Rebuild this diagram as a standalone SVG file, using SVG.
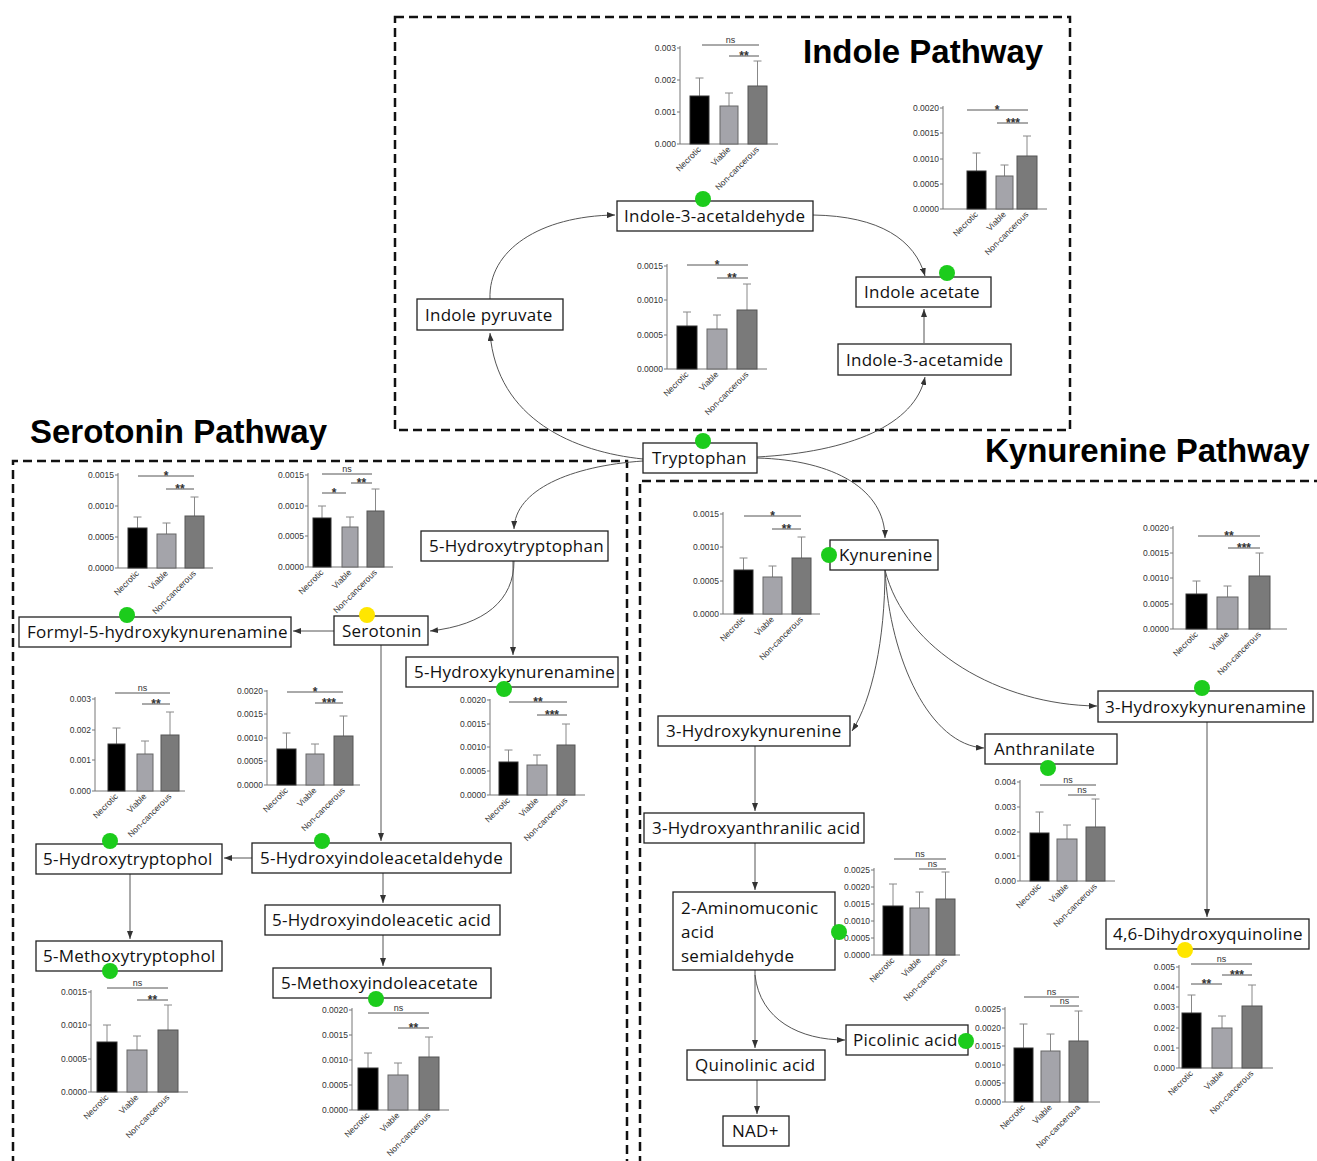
<svg xmlns="http://www.w3.org/2000/svg" width="1317" height="1161" viewBox="0 0 1317 1161">
<style>
.reg{fill:none;stroke:#111;stroke-width:2.5;stroke-dasharray:9 5}
.ttl{font-family:"Liberation Sans",Arial,sans-serif;font-weight:bold;font-size:33px;fill:#000}
.cn{fill:none;stroke:#555;stroke-width:1}
.nb{fill:#fff;stroke:#222;stroke-width:1.3}
.nt{font-family:"Open Sans","Liberation Sans",sans-serif;font-size:17px;letter-spacing:0.25px;fill:#111}
.gd{fill:#1ccc1c}
.yd{fill:#ffe600}
.ax{fill:none;stroke:#777;stroke-width:1}
.tk{font-family:"Liberation Sans",Arial,sans-serif;font-size:8.5px;fill:#333;text-anchor:end}
.xl{font-family:"Liberation Sans",Arial,sans-serif;font-size:8.5px;fill:#333;text-anchor:end}
.b1{fill:#000;stroke:#333;stroke-width:1}
.b2{fill:#a4a4aa;stroke:#666;stroke-width:1}
.b3{fill:#7a7a7a;stroke:#555;stroke-width:1}
.eb{fill:none;stroke:#888;stroke-width:1}
.sg{fill:none;stroke:#555;stroke-width:1}
.ns{font-family:"Liberation Sans",Arial,sans-serif;font-size:9px;fill:#333;text-anchor:middle}
.st{font-family:"Liberation Sans",Arial,sans-serif;font-size:12px;font-weight:bold;fill:#333;text-anchor:middle}
</style>
<defs>
<marker id="ah" viewBox="0 0 8 6" refX="8" refY="3" markerWidth="8" markerHeight="6" markerUnits="userSpaceOnUse" orient="auto">
<path d="M0,0 L8,3 L0,6 z" fill="#333"/>
</marker>
</defs>

<g id="regions">
<rect class="reg" x="395" y="17" width="675" height="413"/>
<path class="reg" d="M13,1165 V461 H627 V1165"/>
<path class="reg" d="M640,1165 V481 H1320"/>
<text class="ttl" x="803" y="63">Indole Pathway</text>
<text class="ttl" x="30" y="443">Serotonin Pathway</text>
<text class="ttl" x="985" y="462">Kynurenine Pathway</text>
</g>

<g id="connectors">
<path class="cn" d="M643,459 C575,452 497,420 490,333" marker-end="url(#ah)"/>
<path class="cn" d="M490,299 C488,250 540,216 615,215" marker-end="url(#ah)"/>
<path class="cn" d="M813,215 C880,216 915,240 925,276" marker-end="url(#ah)"/>
<path class="cn" d="M924,343 V309" marker-end="url(#ah)"/>
<path class="cn" d="M757,457 C850,452 915,425 925,377" marker-end="url(#ah)"/>
<path class="cn" d="M757,458 C835,460 885,490 885,538" marker-end="url(#ah)"/>
<path class="cn" d="M643,461 C570,466 515,490 514,529" marker-end="url(#ah)"/>
<path class="cn" d="M514,561 C514,600 485,625 430,631" marker-end="url(#ah)"/>
<path class="cn" d="M513,561 V655" marker-end="url(#ah)"/>
<path class="cn" d="M334,631 H293" marker-end="url(#ah)"/>
<path class="cn" d="M381,645 V841" marker-end="url(#ah)"/>
<path class="cn" d="M252,858 H224" marker-end="url(#ah)"/>
<path class="cn" d="M383,873 V903" marker-end="url(#ah)"/>
<path class="cn" d="M383,935 V966" marker-end="url(#ah)"/>
<path class="cn" d="M130,874 V939" marker-end="url(#ah)"/>
<path class="cn" d="M885,570 C885,640 872,700 852,731" marker-end="url(#ah)"/>
<path class="cn" d="M885,570 C890,660 930,745 984,748" marker-end="url(#ah)"/>
<path class="cn" d="M885,570 C905,650 1000,705 1097,706" marker-end="url(#ah)"/>
<path class="cn" d="M755,746 V811" marker-end="url(#ah)"/>
<path class="cn" d="M755,843 V890" marker-end="url(#ah)"/>
<path class="cn" d="M755,970 V1048" marker-end="url(#ah)"/>
<path class="cn" d="M755,975 C760,1020 800,1040 845,1040" marker-end="url(#ah)"/>
<path class="cn" d="M757,1080 V1114" marker-end="url(#ah)"/>
<path class="cn" d="M1207,722 V917" marker-end="url(#ah)"/>
</g>

<!-- C1 -->
<g id="chart-i3ald" transform="translate(680,144)">
<path class="ax" d="M0,-98 V0 H98 M-3,0H0 M-3,-32H0 M-3,-64H0 M-3,-96H0"/>
<text class="tk" x="-4" y="3">0.000</text><text class="tk" x="-4" y="-29">0.001</text><text class="tk" x="-4" y="-61">0.002</text><text class="tk" x="-4" y="-93">0.003</text>
<path class="eb" d="M19.5,-48V-66M15.5,-66H23.5 M49,-38V-51M45,-51H53 M77.5,-58V-83M73.5,-83H81.5"/>
<rect class="b1" x="10" y="-48" width="19" height="48"/><rect class="b2" x="40" y="-38" width="18" height="38"/><rect class="b3" x="68" y="-58" width="19" height="58"/>
<path class="sg" d="M22,-99H79 M49,-88H79"/>
<text class="ns" x="50.5" y="-101">ns</text><text class="st" x="64" y="-84">**</text>
<text class="xl" transform="translate(21.5,6) rotate(-45)">Necrotic</text><text class="xl" transform="translate(51,6) rotate(-45)">Viable</text><text class="xl" transform="translate(79.5,6) rotate(-45)">Non-cancerous</text>
</g>

<!-- C2 -->
<g id="chart-iac" transform="translate(943,209)">
<path class="ax" d="M0,-103 V0 H104 M-3,0H0 M-3,-25H0 M-3,-50H0 M-3,-76H0 M-3,-101H0"/>
<text class="tk" x="-4" y="3">0.0000</text><text class="tk" x="-4" y="-22">0.0005</text><text class="tk" x="-4" y="-47">0.0010</text><text class="tk" x="-4" y="-73">0.0015</text><text class="tk" x="-4" y="-98">0.0020</text>
<path class="eb" d="M33.5,-38V-56M29.5,-56H37.5 M61.5,-33V-44M57.5,-44H65.5 M84,-53V-73M80,-73H88"/>
<rect class="b1" x="24" y="-38" width="19" height="38"/><rect class="b2" x="53" y="-33" width="17" height="33"/><rect class="b3" x="74" y="-53" width="20" height="53"/>
<path class="sg" d="M24,-99H85 M54,-86H85"/>
<text class="st" x="54" y="-95">*</text><text class="st" x="70" y="-82">***</text>
<text class="xl" transform="translate(35.5,6) rotate(-45)">Necrotic</text><text class="xl" transform="translate(63.5,6) rotate(-45)">Viable</text><text class="xl" transform="translate(86,6) rotate(-45)">Non-cancerous</text>
</g>

<!-- C3 -->
<g id="chart-i3am" transform="translate(667,369)">
<path class="ax" d="M0,-105 V0 H100 M-3,0H0 M-3,-34H0 M-3,-69H0 M-3,-103H0"/>
<text class="tk" x="-4" y="3">0.0000</text><text class="tk" x="-4" y="-31">0.0005</text><text class="tk" x="-4" y="-66">0.0010</text><text class="tk" x="-4" y="-100">0.0015</text>
<path class="eb" d="M20,-43V-57M16,-57H24 M50,-40V-54M46,-54H54 M80,-59V-85M76,-85H84"/>
<rect class="b1" x="10" y="-43" width="20" height="43"/><rect class="b2" x="40" y="-40" width="20" height="40"/><rect class="b3" x="70" y="-59" width="20" height="59"/>
<path class="sg" d="M20,-104H81 M50,-91H81"/>
<text class="st" x="50" y="-100">*</text><text class="st" x="65" y="-87">**</text>
<text class="xl" transform="translate(22,6) rotate(-45)">Necrotic</text><text class="xl" transform="translate(52,6) rotate(-45)">Viable</text><text class="xl" transform="translate(82,6) rotate(-45)">Non-cancerous</text>
</g>

<!-- C4 -->
<g id="chart-f5hk" transform="translate(118,568)">
<path class="ax" d="M0,-95 V0 H95 M-3,0H0 M-3,-31H0 M-3,-62H0 M-3,-93H0"/>
<text class="tk" x="-4" y="3">0.0000</text><text class="tk" x="-4" y="-28">0.0005</text><text class="tk" x="-4" y="-59">0.0010</text><text class="tk" x="-4" y="-90">0.0015</text>
<path class="eb" d="M19.5,-40V-51M15.5,-51H23.5 M48.5,-34V-45M44.5,-45H52.5 M76.5,-52V-71M72.5,-71H80.5"/>
<rect class="b1" x="10" y="-40" width="19" height="40"/><rect class="b2" x="39" y="-34" width="19" height="34"/><rect class="b3" x="67" y="-52" width="19" height="52"/>
<path class="sg" d="M20,-92H76 M48,-79H76"/>
<text class="st" x="48" y="-88">*</text><text class="st" x="62" y="-75">**</text>
<text class="xl" transform="translate(21.5,6) rotate(-45)">Necrotic</text><text class="xl" transform="translate(50.5,6) rotate(-45)">Viable</text><text class="xl" transform="translate(78.5,6) rotate(-45)">Non-cancerous</text>
</g>

<!-- C5 -->
<g id="chart-ser" transform="translate(308,567)">
<path class="ax" d="M0,-94 V0 H85 M-3,0H0 M-3,-31H0 M-3,-61H0 M-3,-92H0"/>
<text class="tk" x="-4" y="3">0.0000</text><text class="tk" x="-4" y="-28">0.0005</text><text class="tk" x="-4" y="-58">0.0010</text><text class="tk" x="-4" y="-89">0.0015</text>
<path class="eb" d="M14,-49V-61M10,-61H18 M42,-40V-50M38,-50H46 M67.5,-56V-78M63.5,-78H71.5"/>
<rect class="b1" x="5" y="-49" width="18" height="49"/><rect class="b2" x="34" y="-40" width="16" height="40"/><rect class="b3" x="59" y="-56" width="17" height="56"/>
<path class="sg" d="M14,-93H64 M14,-74H38 M43,-84H64"/>
<text class="ns" x="39" y="-95">ns</text><text class="st" x="26" y="-70">*</text><text class="st" x="53.5" y="-80">**</text>
<text class="xl" transform="translate(16,6) rotate(-45)">Necrotic</text><text class="xl" transform="translate(44,6) rotate(-45)">Viable</text><text class="xl" transform="translate(69.5,6) rotate(-45)">Non-cancerous</text>
</g>

<!-- C6 -->
<g id="chart-5htol" transform="translate(95,791)">
<path class="ax" d="M0,-94 V0 H90 M-3,0H0 M-3,-31H0 M-3,-61H0 M-3,-92H0"/>
<text class="tk" x="-4" y="3">0.000</text><text class="tk" x="-4" y="-28">0.001</text><text class="tk" x="-4" y="-58">0.002</text><text class="tk" x="-4" y="-89">0.003</text>
<path class="eb" d="M21.5,-47V-63M17.5,-63H25.5 M50,-37V-50M46,-50H54 M75,-56V-79M71,-79H79"/>
<rect class="b1" x="13" y="-47" width="17" height="47"/><rect class="b2" x="42" y="-37" width="16" height="37"/><rect class="b3" x="66" y="-56" width="18" height="56"/>
<path class="sg" d="M20,-98H75 M47,-87H75"/>
<text class="ns" x="47.5" y="-100">ns</text><text class="st" x="61" y="-83">**</text>
<text class="xl" transform="translate(23.5,6) rotate(-45)">Necrotic</text><text class="xl" transform="translate(52,6) rotate(-45)">Viable</text><text class="xl" transform="translate(77,6) rotate(-45)">Non-cancerous</text>
</g>

<!-- C7 -->
<g id="chart-5hiaald" transform="translate(267,785)">
<path class="ax" d="M0,-95 V0 H93 M-3,0H0 M-3,-24H0 M-3,-47H0 M-3,-71H0 M-3,-94H0"/>
<text class="tk" x="-4" y="3">0.0000</text><text class="tk" x="-4" y="-21">0.0005</text><text class="tk" x="-4" y="-44">0.0010</text><text class="tk" x="-4" y="-68">0.0015</text><text class="tk" x="-4" y="-91">0.0020</text>
<path class="eb" d="M19.5,-36V-52M15.5,-52H23.5 M48,-31V-41M44,-41H52 M76.5,-49V-69M72.5,-69H80.5"/>
<rect class="b1" x="10" y="-36" width="19" height="36"/><rect class="b2" x="39" y="-31" width="18" height="31"/><rect class="b3" x="67" y="-49" width="19" height="49"/>
<path class="sg" d="M20,-93H76 M48,-82H76"/>
<text class="st" x="48" y="-89">*</text><text class="st" x="62" y="-78">***</text>
<text class="xl" transform="translate(21.5,6) rotate(-45)">Necrotic</text><text class="xl" transform="translate(50,6) rotate(-45)">Viable</text><text class="xl" transform="translate(78.5,6) rotate(-45)">Non-cancerous</text>
</g>

<!-- C8 -->
<g id="chart-5hk" transform="translate(490,795)">
<path class="ax" d="M0,-96 V0 H95 M-3,0H0 M-3,-24H0 M-3,-48H0 M-3,-71H0 M-3,-95H0"/>
<text class="tk" x="-4" y="3">0.0000</text><text class="tk" x="-4" y="-21">0.0005</text><text class="tk" x="-4" y="-45">0.0010</text><text class="tk" x="-4" y="-68">0.0015</text><text class="tk" x="-4" y="-92">0.0020</text>
<path class="eb" d="M18.5,-33V-45M14.5,-45H22.5 M47,-30V-40M43,-40H51 M76,-50V-71M72,-71H80"/>
<rect class="b1" x="9" y="-33" width="19" height="33"/><rect class="b2" x="37" y="-30" width="20" height="30"/><rect class="b3" x="67" y="-50" width="18" height="50"/>
<path class="sg" d="M19,-93H77 M47,-80H77"/>
<text class="st" x="48" y="-89">**</text><text class="st" x="62" y="-76">***</text>
<text class="xl" transform="translate(20.5,6) rotate(-45)">Necrotic</text><text class="xl" transform="translate(49,6) rotate(-45)">Viable</text><text class="xl" transform="translate(78,6) rotate(-45)">Non-cancerous</text>
</g>

<!-- C9 -->
<g id="chart-kyn" transform="translate(723,614)">
<path class="ax" d="M0,-102 V0 H97 M-3,0H0 M-3,-33H0 M-3,-67H0 M-3,-100H0"/>
<text class="tk" x="-4" y="3">0.0000</text><text class="tk" x="-4" y="-30">0.0005</text><text class="tk" x="-4" y="-64">0.0010</text><text class="tk" x="-4" y="-97">0.0015</text>
<path class="eb" d="M20.5,-44V-56M16.5,-56H24.5 M49.5,-37V-48M45.5,-48H53.5 M78.5,-56V-77M74.5,-77H82.5"/>
<rect class="b1" x="11" y="-44" width="19" height="44"/><rect class="b2" x="40" y="-37" width="19" height="37"/><rect class="b3" x="69" y="-56" width="19" height="56"/>
<path class="sg" d="M21,-98H78 M49,-85H78"/>
<text class="st" x="49.5" y="-94">*</text><text class="st" x="63.5" y="-81">**</text>
<text class="xl" transform="translate(22.5,6) rotate(-45)">Necrotic</text><text class="xl" transform="translate(51.5,6) rotate(-45)">Viable</text><text class="xl" transform="translate(80.5,6) rotate(-45)">Non-cancerous</text>
</g>

<!-- C10 -->
<g id="chart-3hka" transform="translate(1173,629)">
<path class="ax" d="M0,-103 V0 H114 M-3,0H0 M-3,-25H0 M-3,-51H0 M-3,-76H0 M-3,-101H0"/>
<text class="tk" x="-4" y="3">0.0000</text><text class="tk" x="-4" y="-22">0.0005</text><text class="tk" x="-4" y="-48">0.0010</text><text class="tk" x="-4" y="-73">0.0015</text><text class="tk" x="-4" y="-98">0.0020</text>
<path class="eb" d="M23.5,-35V-48M19.5,-48H27.5 M54.5,-32V-43M50.5,-43H58.5 M86.5,-53V-76M82.5,-76H90.5"/>
<rect class="b1" x="13" y="-35" width="21" height="35"/><rect class="b2" x="44" y="-32" width="21" height="32"/><rect class="b3" x="76" y="-53" width="21" height="53"/>
<path class="sg" d="M25,-93H87 M55,-81H87"/>
<text class="st" x="56" y="-89">**</text><text class="st" x="71" y="-77">***</text>
<text class="xl" transform="translate(25.5,6) rotate(-45)">Necrotic</text><text class="xl" transform="translate(56.5,6) rotate(-45)">Viable</text><text class="xl" transform="translate(88.5,6) rotate(-45)">Non-cancerous</text>
</g>

<!-- C11 -->
<g id="chart-anth" transform="translate(1020,881)">
<path class="ax" d="M0,-101 V0 H95 M-3,0H0 M-3,-25H0 M-3,-49H0 M-3,-74H0 M-3,-99H0"/>
<text class="tk" x="-4" y="3">0.000</text><text class="tk" x="-4" y="-22">0.001</text><text class="tk" x="-4" y="-46">0.002</text><text class="tk" x="-4" y="-71">0.003</text><text class="tk" x="-4" y="-96">0.004</text>
<path class="eb" d="M19.5,-48V-69M15.5,-69H23.5 M47,-42V-56M43,-56H51 M75.5,-54V-82M71.5,-82H79.5"/>
<rect class="b1" x="10" y="-48" width="19" height="48"/><rect class="b2" x="37" y="-42" width="20" height="42"/><rect class="b3" x="66" y="-54" width="19" height="54"/>
<path class="sg" d="M20,-96H76 M48,-86H76"/>
<text class="ns" x="48" y="-98">ns</text><text class="ns" x="62" y="-88">ns</text>
<text class="xl" transform="translate(21.5,6) rotate(-45)">Necrotic</text><text class="xl" transform="translate(49,6) rotate(-45)">Viable</text><text class="xl" transform="translate(77.5,6) rotate(-45)">Non-cancerous</text>
</g>

<!-- C12 -->
<g id="chart-2am" transform="translate(874,955)">
<path class="ax" d="M0,-87 V0 H86 M-3,0H0 M-3,-17H0 M-3,-34H0 M-3,-51H0 M-3,-68H0 M-3,-85H0"/>
<text class="tk" x="-4" y="3">0.0000</text><text class="tk" x="-4" y="-14">0.0005</text><text class="tk" x="-4" y="-31">0.0010</text><text class="tk" x="-4" y="-48">0.0015</text><text class="tk" x="-4" y="-65">0.0020</text><text class="tk" x="-4" y="-82">0.0025</text>
<path class="eb" d="M19,-49V-71M15,-71H23 M45.5,-47V-63M41.5,-63H49.5 M71.5,-56V-83M67.5,-83H75.5"/>
<rect class="b1" x="9" y="-49" width="20" height="49"/><rect class="b2" x="36" y="-47" width="19" height="47"/><rect class="b3" x="62" y="-56" width="19" height="56"/>
<path class="sg" d="M20,-96H72 M45,-86H72"/>
<text class="ns" x="46" y="-98">ns</text><text class="ns" x="58.5" y="-88">ns</text>
<text class="xl" transform="translate(21,6) rotate(-45)">Necrotic</text><text class="xl" transform="translate(47.5,6) rotate(-45)">Viable</text><text class="xl" transform="translate(73.5,6) rotate(-45)">Non-cancerous</text>
</g>

<!-- C13 -->
<g id="chart-pic" transform="translate(1005,1102)">
<path class="ax" d="M0,-95 V0 H95 M-3,0H0 M-3,-19H0 M-3,-37H0 M-3,-56H0 M-3,-74H0 M-3,-93H0"/>
<text class="tk" x="-4" y="3">0.0000</text><text class="tk" x="-4" y="-16">0.0005</text><text class="tk" x="-4" y="-34">0.0010</text><text class="tk" x="-4" y="-53">0.0015</text><text class="tk" x="-4" y="-71">0.0020</text><text class="tk" x="-4" y="-90">0.0025</text>
<path class="eb" d="M18.5,-54V-78M14.5,-78H22.5 M45.5,-51V-68M41.5,-68H49.5 M73.5,-61V-91M69.5,-91H77.5"/>
<rect class="b1" x="9" y="-54" width="19" height="54"/><rect class="b2" x="36" y="-51" width="19" height="51"/><rect class="b3" x="64" y="-61" width="19" height="61"/>
<path class="sg" d="M19,-105H74 M45,-96H74"/>
<text class="ns" x="46.5" y="-107">ns</text><text class="ns" x="59.5" y="-98">ns</text>
<text class="xl" transform="translate(20.5,6) rotate(-45)">Necrotic</text><text class="xl" transform="translate(47.5,6) rotate(-45)">Viable</text><text class="xl" transform="translate(75.5,6) rotate(-45)">Non-canceroua</text>
</g>

<!-- C14 -->
<g id="chart-46dhq" transform="translate(1179,1068)">
<path class="ax" d="M0,-103 V0 H94 M-3,0H0 M-3,-20H0 M-3,-40H0 M-3,-61H0 M-3,-81H0 M-3,-101H0"/>
<text class="tk" x="-4" y="3">0.000</text><text class="tk" x="-4" y="-17">0.001</text><text class="tk" x="-4" y="-37">0.002</text><text class="tk" x="-4" y="-58">0.003</text><text class="tk" x="-4" y="-78">0.004</text><text class="tk" x="-4" y="-98">0.005</text>
<path class="eb" d="M12.5,-55V-73M8.5,-73H16.5 M43,-40V-52M39,-52H47 M73,-62V-83M69,-83H77"/>
<rect class="b1" x="3" y="-55" width="19" height="55"/><rect class="b2" x="33" y="-40" width="20" height="40"/><rect class="b3" x="63" y="-62" width="20" height="62"/>
<path class="sg" d="M12,-104H73 M12,-84H43 M43,-93H73"/>
<text class="ns" x="42.5" y="-106">ns</text><text class="st" x="27.5" y="-80">**</text><text class="st" x="58" y="-89">***</text>
<text class="xl" transform="translate(14.5,6) rotate(-45)">Necrotic</text><text class="xl" transform="translate(45,6) rotate(-45)">Viable</text><text class="xl" transform="translate(75,6) rotate(-45)">Non-cancerous</text>
</g>

<!-- C15 -->
<g id="chart-5mtol" transform="translate(91,1092)">
<path class="ax" d="M0,-102 V0 H97 M-3,0H0 M-3,-33H0 M-3,-67H0 M-3,-100H0"/>
<text class="tk" x="-4" y="3">0.0000</text><text class="tk" x="-4" y="-30">0.0005</text><text class="tk" x="-4" y="-64">0.0010</text><text class="tk" x="-4" y="-97">0.0015</text>
<path class="eb" d="M16,-50V-67M12,-67H20 M46,-42V-56M42,-56H50 M77,-62V-87M73,-87H81"/>
<rect class="b1" x="6" y="-50" width="20" height="50"/><rect class="b2" x="36" y="-42" width="20" height="42"/><rect class="b3" x="67" y="-62" width="20" height="62"/>
<path class="sg" d="M16,-104H77 M46,-92H77"/>
<text class="ns" x="46.5" y="-106">ns</text><text class="st" x="61.5" y="-88">**</text>
<text class="xl" transform="translate(18,6) rotate(-45)">Necrotic</text><text class="xl" transform="translate(48,6) rotate(-45)">Viable</text><text class="xl" transform="translate(79,6) rotate(-45)">Non-cancerous</text>
</g>

<!-- C16 -->
<g id="chart-5mia" transform="translate(352,1110)">
<path class="ax" d="M0,-102 V0 H97 M-3,0H0 M-3,-25H0 M-3,-50H0 M-3,-75H0 M-3,-100H0"/>
<text class="tk" x="-4" y="3">0.0000</text><text class="tk" x="-4" y="-22">0.0005</text><text class="tk" x="-4" y="-47">0.0010</text><text class="tk" x="-4" y="-72">0.0015</text><text class="tk" x="-4" y="-97">0.0020</text>
<path class="eb" d="M16,-42V-57M12,-57H20 M46,-35V-47M42,-47H50 M77,-53V-73M73,-73H81"/>
<rect class="b1" x="6" y="-42" width="20" height="42"/><rect class="b2" x="36" y="-35" width="20" height="35"/><rect class="b3" x="67" y="-53" width="20" height="53"/>
<path class="sg" d="M16,-97H77 M46,-82H77"/>
<text class="ns" x="46.5" y="-99">ns</text><text class="st" x="61.5" y="-78">**</text>
<text class="xl" transform="translate(18,6) rotate(-45)">Necrotic</text><text class="xl" transform="translate(48,6) rotate(-45)">Viable</text><text class="xl" transform="translate(79,6) rotate(-45)">Non-cancerous</text>
</g>

<!-- Nodes -->
<g id="n-i3ald"><rect class="nb" x="617" y="201" width="196" height="30"/><text class="nt" x="624" y="222">Indole-3-acetaldehyde</text><circle class="gd" cx="703" cy="199" r="8"/></g>
<g id="n-iac"><rect class="nb" x="856" y="277" width="135" height="30"/><text class="nt" x="864" y="298">Indole acetate</text><circle class="gd" cx="947" cy="273" r="8"/></g>
<g id="n-ipyr"><rect class="nb" x="417" y="299" width="146" height="31"/><text class="nt" x="425" y="321">Indole pyruvate</text></g>
<g id="n-i3am"><rect class="nb" x="838" y="344" width="173" height="31"/><text class="nt" x="846" y="366">Indole-3-acetamide</text></g>
<g id="n-trp"><rect class="nb" x="643" y="443" width="114" height="30"/><text class="nt" x="652" y="464">Tryptophan</text><circle class="gd" cx="703" cy="441" r="8"/></g>
<g id="n-5htp"><rect class="nb" x="421" y="531" width="187" height="30"/><text class="nt" x="429" y="552">5-Hydroxytryptophan</text></g>
<g id="n-ser"><rect class="nb" x="334" y="616" width="94" height="29"/><text class="nt" x="342" y="637">Serotonin</text><circle class="yd" cx="367" cy="615" r="8"/></g>
<g id="n-f5hk"><rect class="nb" x="19" y="617" width="272" height="30"/><text class="nt" x="27" y="638">Formyl-5-hydroxykynurenamine</text><circle class="gd" cx="127" cy="615" r="8"/></g>
<g id="n-5hk"><rect class="nb" x="406" y="657" width="212" height="30"/><text class="nt" x="414" y="678">5-Hydroxykynurenamine</text><circle class="gd" cx="504" cy="689" r="8"/></g>
<g id="n-kyn"><rect class="nb" x="830" y="540" width="108" height="30"/><text class="nt" x="839" y="561">Kynurenine</text><circle class="gd" cx="829" cy="555" r="8"/></g>
<g id="n-3hka"><rect class="nb" x="1098" y="691" width="215" height="31"/><text class="nt" x="1105" y="713">3-Hydroxykynurenamine</text><circle class="gd" cx="1202" cy="688" r="8"/></g>
<g id="n-3hk"><rect class="nb" x="658" y="716" width="192" height="30"/><text class="nt" x="666" y="737">3-Hydroxykynurenine</text></g>
<g id="n-anth"><rect class="nb" x="985" y="734" width="132" height="30"/><text class="nt" x="994" y="755">Anthranilate</text><circle class="gd" cx="1048" cy="768" r="8"/></g>
<g id="n-3haa"><rect class="nb" x="644" y="813" width="220" height="30"/><text class="nt" x="652" y="834">3-Hydroxyanthranilic acid</text></g>
<g id="n-2am"><rect class="nb" x="673" y="892" width="162" height="78"/><text class="nt" x="681" y="914">2-Aminomuconic</text><text class="nt" x="681" y="938">acid</text><text class="nt" x="681" y="962">semialdehyde</text><circle class="gd" cx="839" cy="932" r="8"/></g>
<g id="n-46dhq"><rect class="nb" x="1106" y="919" width="203" height="30"/><text class="nt" x="1113" y="940">4,6-Dihydroxyquinoline</text><circle class="yd" cx="1185" cy="950" r="8"/></g>
<g id="n-pic"><rect class="nb" x="846" y="1025" width="122" height="30"/><text class="nt" x="853" y="1046">Picolinic acid</text><circle class="gd" cx="966" cy="1041" r="8"/></g>
<g id="n-quin"><rect class="nb" x="687" y="1050" width="138" height="30"/><text class="nt" x="695" y="1071">Quinolinic acid</text></g>
<g id="n-nad"><rect class="nb" x="723" y="1116" width="66" height="30"/><text class="nt" x="732" y="1137">NAD+</text></g>
<g id="n-5htol"><rect class="nb" x="36" y="844" width="186" height="30"/><text class="nt" x="43" y="865">5-Hydroxytryptophol</text><circle class="gd" cx="110" cy="841" r="8"/></g>
<g id="n-5hiaald"><rect class="nb" x="252" y="843" width="259" height="30"/><text class="nt" x="260" y="864">5-Hydroxyindoleacetaldehyde</text><circle class="gd" cx="322" cy="841" r="8"/></g>
<g id="n-5hiaa"><rect class="nb" x="265" y="905" width="235" height="30"/><text class="nt" x="272" y="926">5-Hydroxyindoleacetic acid</text></g>
<g id="n-5mtol"><rect class="nb" x="36" y="941" width="186" height="30"/><text class="nt" x="43" y="962">5-Methoxytryptophol</text><circle class="gd" cx="110" cy="971" r="8"/></g>
<g id="n-5mia"><rect class="nb" x="273" y="968" width="218" height="30"/><text class="nt" x="281" y="989">5-Methoxyindoleacetate</text><circle class="gd" cx="376" cy="999" r="8"/></g>
</svg>
